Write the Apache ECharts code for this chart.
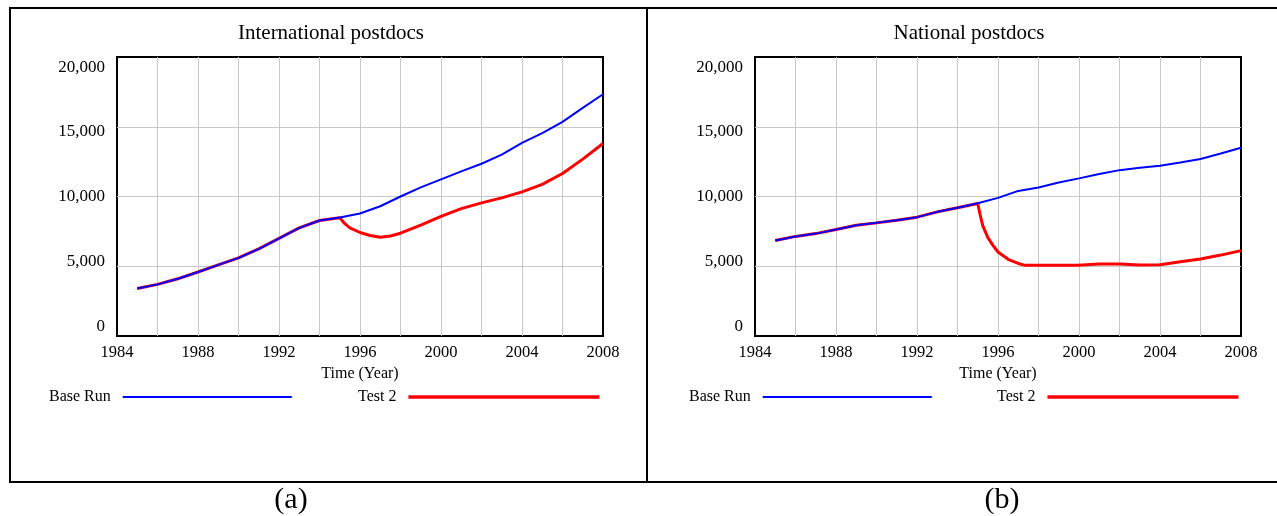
<!DOCTYPE html>
<html>
<head>
<meta charset="utf-8">
<script src="https://cdn.jsdelivr.net/npm/echarts@6/dist/echarts.min.js"></script>
<style>
  html, body { margin: 0; padding: 0; background: #ffffff; }
  #chart { width: 1277px; height: 516px; }
</style>
</head>
<body>
<div id="chart"></div>
<script>
// Simulation output, yearly, 1985-2008
const years = [1985, 1986, 1987, 1988, 1989, 1990, 1991, 1992, 1993, 1994, 1995, 1996,
               1997, 1998, 1999, 2000, 2001, 2002, 2003, 2004, 2005, 2006, 2007, 2008];

// International postdocs
const intlBase = [3400, 3700, 4100, 4590, 5100, 5600, 6250, 7000, 7750, 8280, 8500, 8780,
                  9300, 10000, 10650, 11230, 11800, 12350, 13000, 13850, 14550, 15350, 16350, 17330];
const intlTestYears = [1985, 1986, 1987, 1988, 1989, 1990, 1991, 1992, 1993, 1994, 1995,
                       1995.25, 1995.5, 1996, 1996.5, 1997, 1997.5, 1998, 1999, 2000,
                       2001, 2002, 2003, 2004, 2005, 2006, 2007, 2008];
const intlTest = [3400, 3700, 4100, 4590, 5100, 5600, 6250, 7000, 7750, 8280, 8480,
                  8050, 7750, 7420, 7200, 7080, 7170, 7370, 7950, 8580,
                  9130, 9540, 9900, 10330, 10870, 11650, 12680, 13800];

// National postdocs
const natBase = [6850, 7140, 7340, 7630, 7940, 8110, 8300, 8520, 8900, 9200, 9520, 9900,
                 10400, 10650, 11000, 11300, 11620, 11890, 12060, 12200, 12440, 12690, 13080, 13490];
const natTestYears = [1985, 1986, 1987, 1988, 1989, 1990, 1991, 1992, 1993, 1994, 1995,
                      1995.1, 1995.25, 1995.5, 1995.75, 1996, 1996.5, 1997, 1997.3, 1998, 1999,
                      1999.95, 2000, 2001, 2002, 2002.05, 2003, 2004, 2005, 2006, 2007, 2008];
const natTest = [6850, 7140, 7340, 7630, 7940, 8110, 8300, 8520, 8900, 9200, 9500,
                 8800, 7900, 7050, 6500, 6020, 5500, 5200, 5080, 5080, 5080,
                 5080, 5160, 5170, 5170, 5090, 5090, 5100, 5320, 5520, 5800, 6120];

// Axis ticks
const xLabelYears = [1984, 1988, 1992, 1996, 2000, 2004, 2008];
const yTicks = [0, 5000, 10000, 15000, 20000];

const SERIF = "'Liberation Serif', 'Times New Roman', serif";
const BLUE = '#0000ff';
const RED = '#ff0000';

function pairs(xs, ys) { return xs.map((x, i) => [x, ys[i]]); }
function thousands(v) { return String(v).replace(/\B(?=(\d{3})+(?!\d))/g, ','); }

// value labels on the y axis sit slightly pulled toward the middle
const yRichKey = { 0: 'e', 5000: 'd', 10000: 'c', 15000: 'b', 20000: 'a' };
const yRich = {
  a: { fontFamily: SERIF, fontSize: 17, color: '#000', padding: [21, 0, 0, 0] },
  b: { fontFamily: SERIF, fontSize: 17, color: '#000', padding: [10, 0, 0, 0] },
  c: { fontFamily: SERIF, fontSize: 17, color: '#000' },
  d: { fontFamily: SERIF, fontSize: 17, color: '#000', padding: [0, 0, 9, 0] },
  e: { fontFamily: SERIF, fontSize: 17, color: '#000', padding: [0, 0, 19, 0] }
};

const gridLine = { show: true, showMinLine: false, showMaxLine: false, lineStyle: { color: '#c8c8c8', width: 1 } };

function xAxis(gridIndex) {
  return {
    type: 'value', gridIndex, min: 1984, max: 2008, interval: 2,
    name: 'Time (Year)', nameLocation: 'middle', nameGap: 27,
    nameTextStyle: { fontFamily: SERIF, fontSize: 16, color: '#000' },
    axisLine: { show: false }, axisTick: { show: false },
    axisLabel: {
      margin: 8, fontFamily: SERIF, fontSize: 16.5, color: '#000',
      formatter: v => xLabelYears.includes(v) ? String(v) : ''
    },
    splitLine: gridLine
  };
}
function yAxis(gridIndex) {
  return {
    type: 'value', gridIndex, min: yTicks[0], max: yTicks[yTicks.length - 1], interval: 5000,
    axisLine: { show: false }, axisTick: { show: false },
    axisLabel: {
      margin: 12, fontFamily: SERIF, fontSize: 17, color: '#000',
      formatter: v => '{' + yRichKey[v] + '|' + thousands(v) + '}',
      rich: yRich
    },
    splitLine: gridLine
  };
}
function legend(name, left, w, h) {
  return {
    data: [name], left, top: 388, padding: 0, align: 'right', icon: 'rect',
    itemWidth: w, itemHeight: h, selectedMode: false,
    textStyle: { fontFamily: SERIF, fontSize: 16, color: '#000', lineHeight: 18, padding: [0, 7, 0, 0] }
  };
}
function line(name, data, color, width, xi, z) {
  return {
    type: 'line', name, data, xAxisIndex: xi, yAxisIndex: xi, color,
    showSymbol: false, symbol: 'none', z,
    lineStyle: { color, width }, animation: false
  };
}
function label(text, x, y, size) {
  return {
    type: 'text', x, y, silent: true,
    style: { text, fontFamily: SERIF, fontSize: size, fill: '#000', align: 'center', verticalAlign: 'middle' }
  };
}
function rule(x1, y1, x2, y2) {
  return { type: 'line', silent: true, shape: { x1, y1, x2, y2 }, style: { stroke: '#000', lineWidth: 2 } };
}

const chart = echarts.init(document.getElementById('chart'), null, { renderer: 'canvas' });
chart.setOption({
  backgroundColor: '#ffffff',
  animation: false,
  grid: [
    { left: 117, top: 57, width: 486, height: 279, show: true, borderColor: '#000', borderWidth: 2, containLabel: false },
    { left: 755, top: 57, width: 486, height: 279, show: true, borderColor: '#000', borderWidth: 2, containLabel: false }
  ],
  xAxis: [xAxis(0), xAxis(1)],
  yAxis: [yAxis(0), yAxis(1)],
  legend: [
    legend('Base Run', 49, 169, 2),
    legend('Test 2', 358, 191, 3.5),
    legend('Base Run', 689, 169, 2),
    legend('Test 2', 997, 191, 3.5)
  ],
  series: [
    line('Test 2', pairs(intlTestYears, intlTest), RED, 3, 0, 2),
    line('Base Run', pairs(years, intlBase), BLUE, 2, 0, 3),
    line('Test 2', pairs(natTestYears, natTest), RED, 3, 1, 2),
    line('Base Run', pairs(years, natBase), BLUE, 2, 1, 3)
  ],
  graphic: [
    rule(9, 8, 1277, 8),
    rule(9, 482, 1277, 482),
    rule(10, 8, 10, 482),
    rule(647, 8, 647, 482),
    label('International postdocs', 331, 33, 21),
    label('National postdocs', 969, 33, 21),
    label('(a)', 291, 500, 30),
    label('(b)', 1002, 500, 30)
  ]
});
</script>
</body>
</html>
